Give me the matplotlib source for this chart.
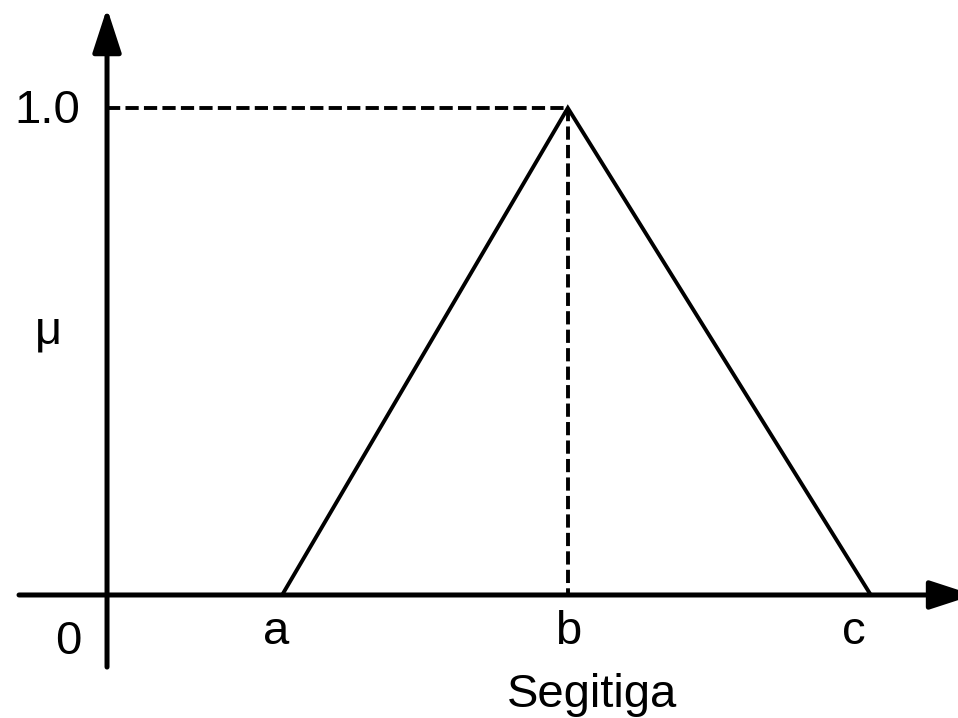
import matplotlib
matplotlib.use('Agg')
import matplotlib.pyplot as plt

# ---- data ----
x_points = [3.04, 8.0, 13.26]      # a, b, c
mu_points = [0.0, 1.0, 0.0]
tick_labels = ['a', 'b', 'c']
peak_value = 1.0
peak_label = '1.0'
origin_label = '0'
y_label = 'μ'
x_title = 'Segitiga'

plt.rcParams['font.family'] = ['Liberation Sans', 'DejaVu Sans']
FS = 34

fig = plt.figure(figsize=(9.58, 7.18), dpi=100)
ax = fig.add_axes([0, 0, 1, 1])
ax.set_xlim(-1.858, 14.774)
ax.set_ylim(-0.2526, 1.2218)
ax.axis('off')

arrow_style = '-|>,head_length=2.7,head_width=0.88'
# x axis
ax.annotate('', xy=(15.05, 0), xytext=(-1.528, 0),
            arrowprops=dict(arrowstyle=arrow_style, mutation_scale=10, lw=3.6,
                            color='black', shrinkA=0, shrinkB=0),
            annotation_clip=False)
# y axis
ax.annotate('', xy=(0, 1.205), xytext=(0, -0.148),
            arrowprops=dict(arrowstyle=arrow_style, mutation_scale=10, lw=3.6,
                            color='black', shrinkA=0, shrinkB=0),
            annotation_clip=False)

# triangle
ax.plot(x_points, mu_points, color='black', lw=2.8, solid_joinstyle='miter',
        solid_capstyle='butt', zorder=3)

# dashed guides to the peak
b = x_points[1]
ax.plot([0, b], [peak_value, peak_value], color='black', lw=2.8,
        dashes=(3.4, 1.35), zorder=2)
ax.plot([b, b], [peak_value, 0], color='black', lw=2.8,
        dashes=(3.4, 1.35), zorder=2)

# labels
offsets = [-0.1, 0.0, -0.3]
for xv, lab, dx in zip(x_points, tick_labels, offsets):
    ax.text(xv + dx, -0.1, lab, fontsize=FS, ha='center', va='baseline')
ax.text(-0.68, -0.121, origin_label, fontsize=FS, ha='center', va='baseline')
ax.text(-1.04, peak_value - 0.031, peak_label, fontsize=FS, ha='center', va='baseline')
ax.text(-1.02, 0.517, y_label, fontsize=FS, ha='center', va='baseline')
ax.text(8.42, -0.230, x_title, fontsize=FS, ha='center', va='baseline')

fig.savefig('out.png', dpi=100, facecolor='white')
